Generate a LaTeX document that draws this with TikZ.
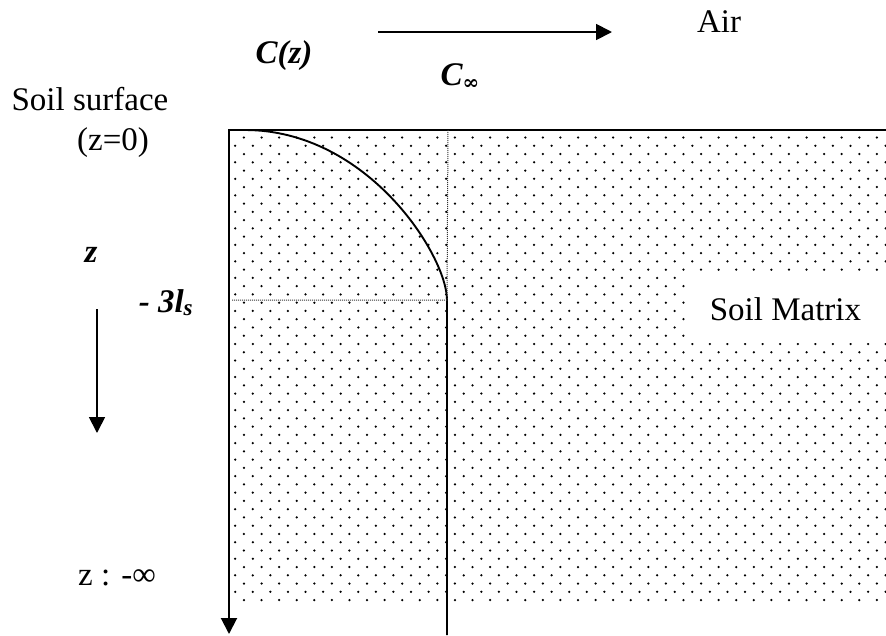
\documentclass[tikz,border=0pt]{standalone}
\usepackage{fontspec}
\setmainfont{Liberation Serif}
\newfontfamily\symfont{DejaVu Serif}
\usetikzlibrary{arrows.meta,positioning}

\begin{document}
\begin{tikzpicture}[x=1pt,y=-1pt,
   lbl/.style={inner sep=0pt,anchor=base,font=\fontsize{33}{38}\selectfont},
   blbl/.style={lbl,font=\fontsize{33}{38}\selectfont\bfseries\itshape},
   arr/.style={-{Triangle[length=16pt,width=16pt]},line width=1.8pt},
   guide/.style={densely dotted,line width=1pt,black!80}]
  \useasboundingbox (0,0) rectangle (886,635);
  % soil dots
  \begin{scope}
    \clip (232,133) rectangle (886,604);
    \foreach \r in {0,...,56}{
      \pgfmathsetmacro{\yy}{137.5+8.26*\r}
      \pgfmathsetmacro{\xo}{mod(\r,2)*8.8}
      \foreach \c in {0,...,37}
        \fill (226.4+\xo+17.58*\c,\yy) circle (1.25pt);
    }
  \end{scope}
  % surface and depth axis
  \coordinate (o) at (229,130);
  \coordinate (r) at (886,130);
  \coordinate (bot) at (229,634);
  \draw[arr,line width=2pt] (r) -- (o) -- (bot);
  % concentration profile
  \coordinate (c0) at (245,130);
  \coordinate (c1) at (447,300);
  \coordinate (cb) at (447,635);
  \draw[line width=1.9pt] (c0) .. controls (368,130) and (447,256) .. (c1) -- (cb);
  \coordinate (gt) at (448,130);
  \coordinate (gl) at (232,300);
  \draw[guide] (gt) -- (c1) -- (gl);
  % labels
  \node[lbl] (air) at (719,32) {Air};
  \node[blbl] (cz) at (284,63) {C(z)};
  \node[blbl] (cinf) at (460,85) {C\raisebox{-4pt}{\fontsize{20}{22}\selectfont\symfont\bfseries ∞}};
  \node[lbl] (surf) at (90,110) {Soil surface};
  \node[lbl] (z0) at (113,150) {(z=0)};
  \node[blbl] (z) at (91,262) {z};
  \node[blbl] (ls) at (166,312) {- 3l\textsubscript{s}};
  \node[lbl] (zinf) at (117,585) {z : -∞};
  \node[fill=white,inner sep=0pt,minimum width=201pt,minimum height=68pt,
        font=\fontsize{33}{38}\selectfont] (mat) at (785.5,309) {Soil Matrix};
  % arrows
  \coordinate (ha) at (378,32);
  \coordinate (hb) at (612,32);
  \draw[arr] (ha) -- (hb);
  \coordinate (va) at (97,309);
  \coordinate (vb) at (97,433);
  \draw[arr] (va) -- (vb);
\end{tikzpicture}
\end{document}
